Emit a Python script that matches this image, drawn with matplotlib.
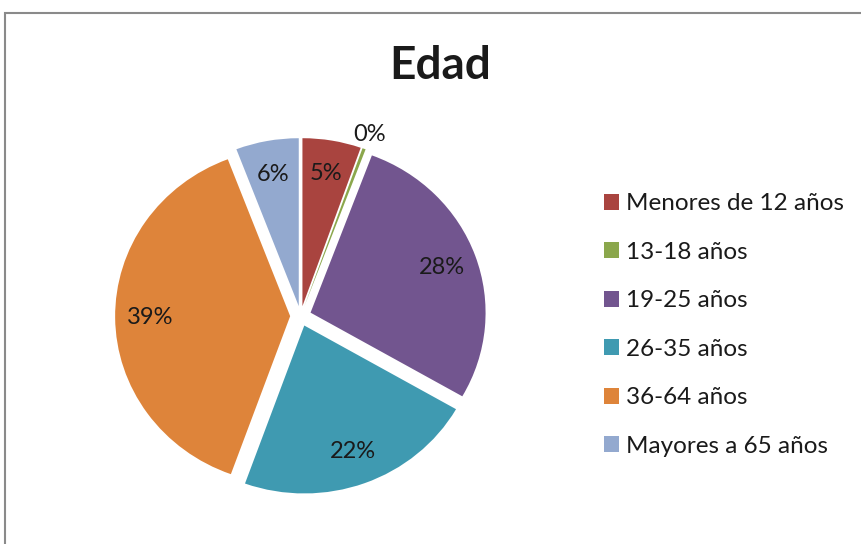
import matplotlib.pyplot as plt
from matplotlib.patches import Rectangle, Patch

categorias = ["Menores de 12 años", "13-18 años", "19-25 años",
              "26-35 años", "36-64 años", "Mayores a 65 años"]
porcentajes = [5.4, 0.3, 27.6, 22.2, 38.7, 5.8]
colores = ["#A9443F", "#8BA74C", "#72558F", "#3F9AB1", "#DE843A", "#93A9CF"]

plt.rcParams['font.family'] = ['Lato', 'DejaVu Sans']

fig = plt.figure(figsize=(8.62, 5.44), dpi=100)

# marco gris del grafico
fig.patches.append(Rectangle((5 / 862, -0.1), 1.2, (544 - 13) / 544 + 0.1,
                             transform=fig.transFigure, fill=False,
                             edgecolor="#8A8A8A", linewidth=1.5))

fig.text(440 / 862, 1 - 66 / 544, "Edad", ha="center", va="center",
         fontsize=33, fontweight="bold", color="#1A1A1A")

# el pastel del original esta un poco aplastado en vertical
ax = fig.add_axes([0.1153, 0.064, 0.467, 0.710])
wedges, texts, autotexts = ax.pie(
    porcentajes, colors=colores, startangle=90, counterclock=False,
    explode=[0.06] * len(porcentajes), autopct="%.0f%%", pctdistance=0.8,
    wedgeprops=dict(linewidth=0), textprops=dict(fontsize=17, color="#1A1A1A"))

# etiqueta del 0% fuera del sector
t = autotexts[1]
x, y = t.get_position()
d = (x ** 2 + y ** 2) ** 0.5
t.set_position((x / d * 1.15, y / d * 1.15))

ax.set_xlim(-1.15, 1.15)
ax.set_ylim(-1.15, 1.15)
ax.set_aspect("auto")
ax.axis("off")

handles = [Patch(facecolor=c, edgecolor="none") for c in colores]
fig.legend(handles, categorias, loc="center left",
           bbox_to_anchor=(582 / 862, 1 - 325 / 544), frameon=False,
           fontsize=17.5, labelspacing=1.13, handlelength=0.62,
           handleheight=0.62, handletextpad=0.3, labelcolor="#1A1A1A")

fig.savefig("out.png", dpi=100)
